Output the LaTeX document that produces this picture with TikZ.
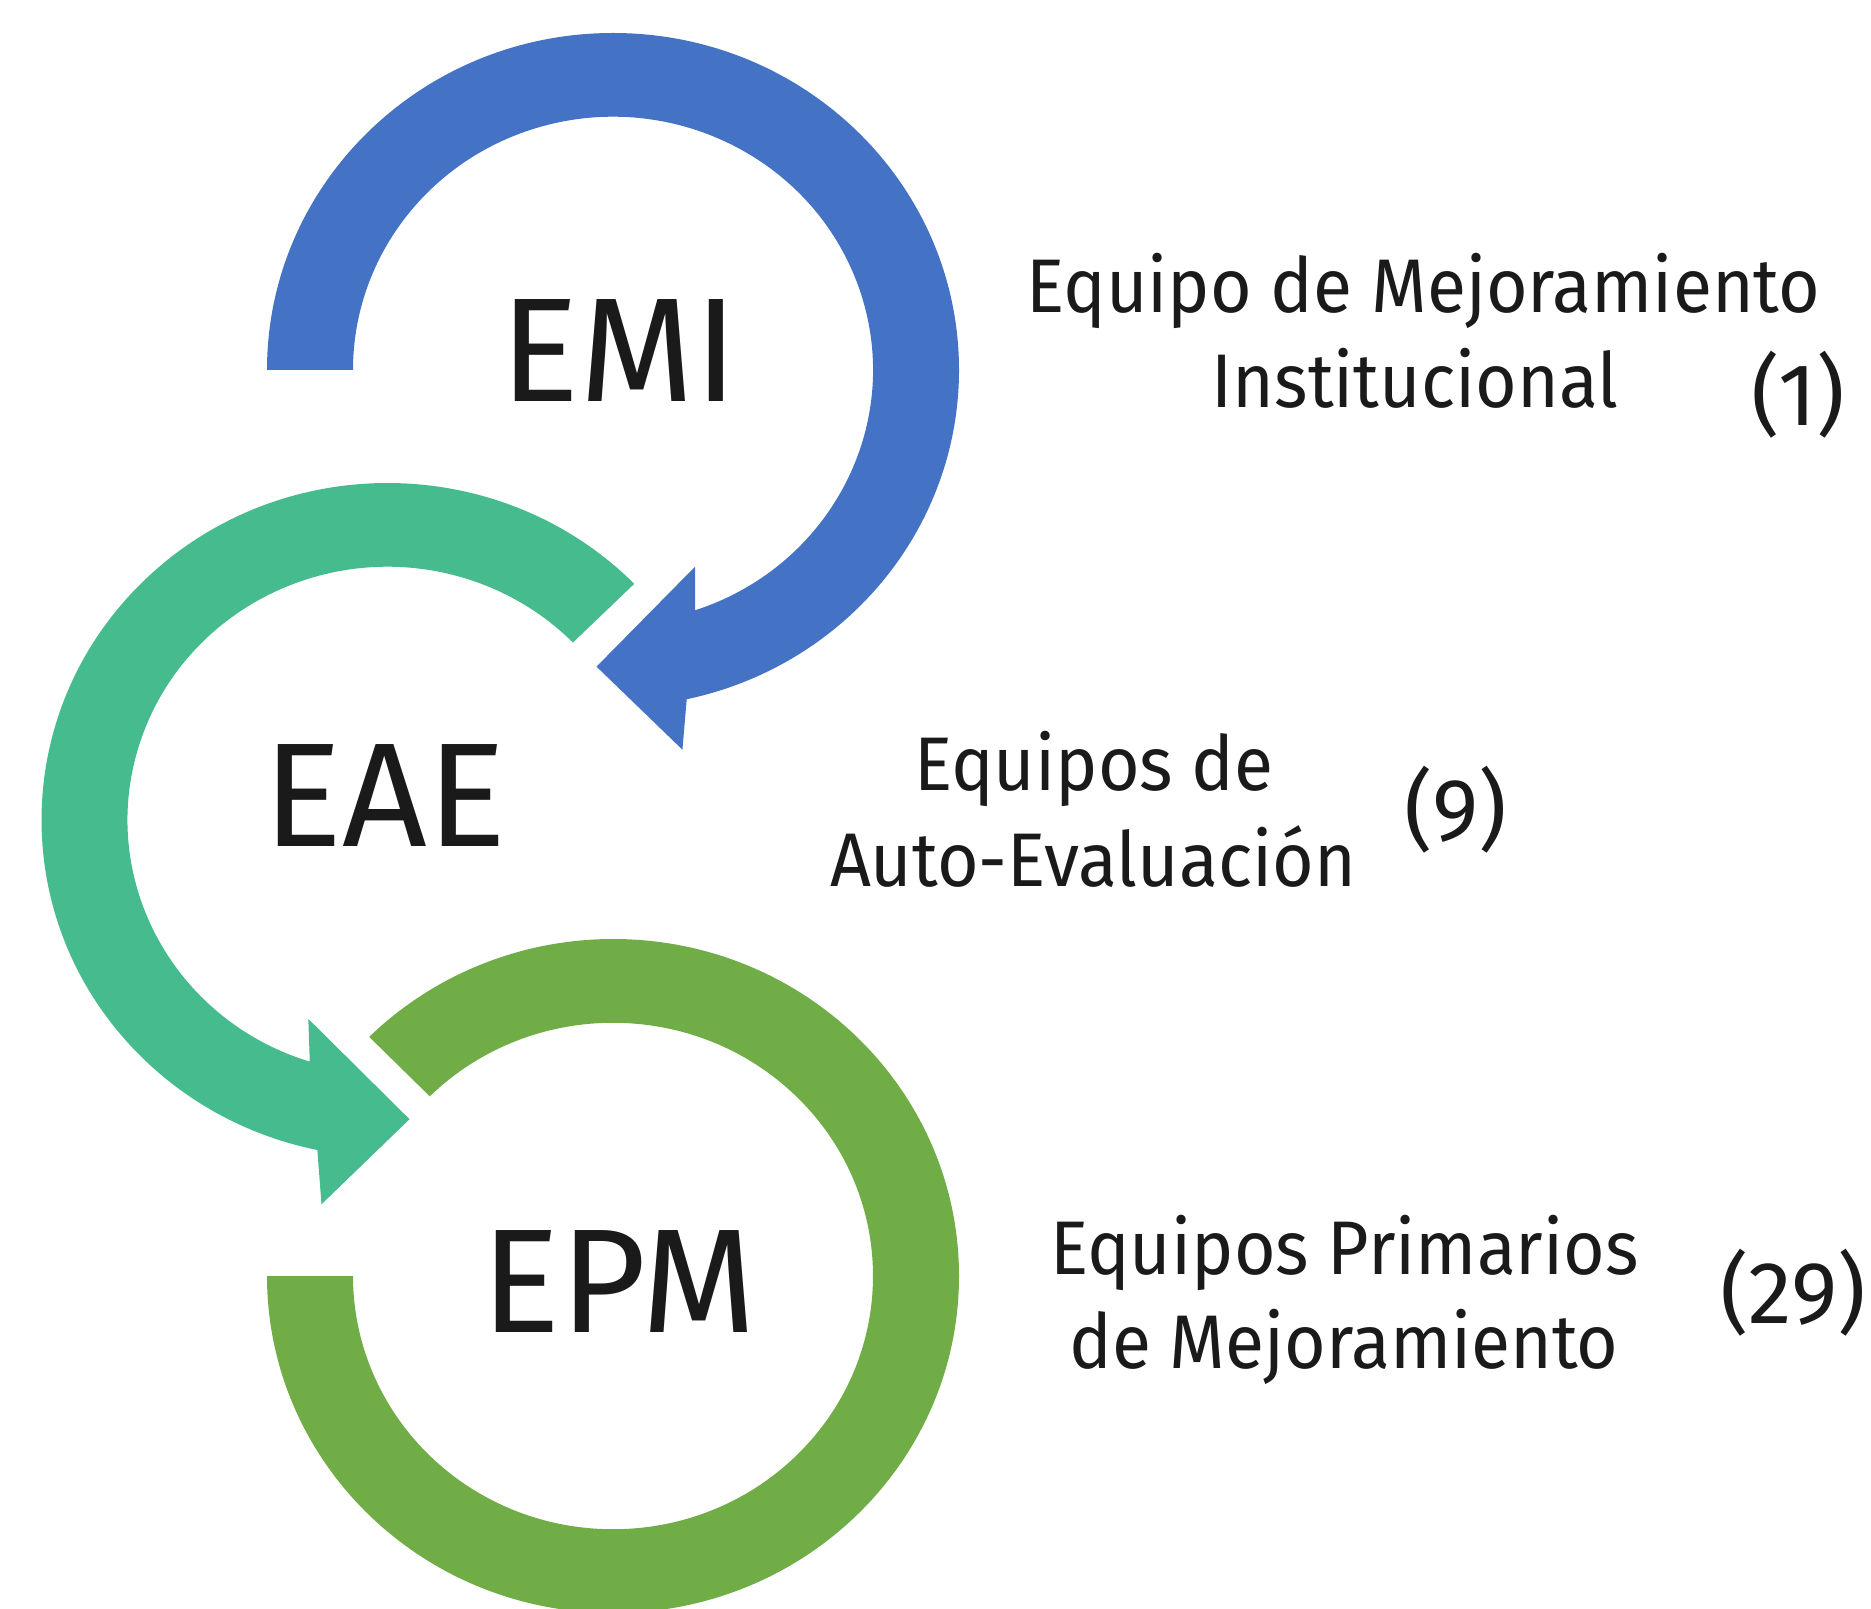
\documentclass[tikz,border=0pt]{standalone}
\usepackage{fontspec}
\setmainfont{Fira Sans}
\newfontfamily\descfont[FakeStretch=0.94]{Fira Sans}
\definecolor{cblue}{HTML}{4472C4}
\definecolor{cteal}{HTML}{45BB8E}
\definecolor{cgreen}{HTML}{70AD47}
\definecolor{ctext}{HTML}{1A1A1A}
\begin{document}
\begin{tikzpicture}[x=0.5pt,y=0.5pt,
  big/.style={font=\fontsize{74}{74}\selectfont, text=ctext, inner sep=0pt, anchor=base},
  desc/.style={font=\descfont\fontsize{38}{46}\selectfont, text=ctext, inner sep=0pt, anchor=base},
  num/.style={font=\fontsize{44}{44}\selectfont, text=ctext, inner sep=0pt, anchor=base}]
\clip (0,0) rectangle (1871,-1609);
% blue arrow (EMI)
\begin{scope}[shift={(613,-370)}, yscale=0.974]
\fill[cblue] (180:346) arc[start angle=180, end angle=-77.7, radius=346]
  -- (-79.9:396) -- (-93.1:305) -- (-67.9:218) -- (-71.6:260)
  arc[start angle=-71.6, end angle=180, radius=260] -- cycle;
\end{scope}
% teal arrow (EAE)
\begin{scope}[shift={(387.5,-820)}, yscale=0.974]
\fill[cteal] (44.5:346) arc[start angle=44.5, end angle=258.3, radius=346]
  -- (260.5:400) -- (274.1:308) -- (248.8:219) -- (252.6:260)
  arc[start angle=252.6, end angle=44.5, radius=260] -- cycle;
\end{scope}
% green ring (EPM)
\begin{scope}[shift={(613,-1276)}, yscale=0.974]
\fill[cgreen] (180:346) arc[start angle=180, end angle=494.8, radius=346]
  -- (134.8:260) arc[start angle=494.8, end angle=180, radius=260] -- cycle;
\end{scope}
% labels
\node[big] (emi) at (619,-401.7) {EMI};
\node[big] (eae) at (385,-846) {EAE};
\node[big] (epm) at (619,-1332) {EPM};
\node[desc] (t1a) at (1423.5,-312.5) {Equipo de Mejoramiento};
\node[desc] (t1b) at (1415,-408) {Institucional};
\node[num] (n1) at (1798,-425) {(1)};
\node[desc] (t2a) at (1094,-790) {Equipos de};
\node[desc] (t2b) at (1093,-886.5) {Auto-Evaluación};
\node[num] (n2) at (1455.6,-840) {(9)};
\node[desc] (t3a) at (1344.5,-1274) {Equipos Primarios};
\node[desc] (t3b) at (1344,-1368.5) {de Mejoramiento};
\node[num] (n3) at (1793,-1323) {(29)};
\end{tikzpicture}
\end{document}
